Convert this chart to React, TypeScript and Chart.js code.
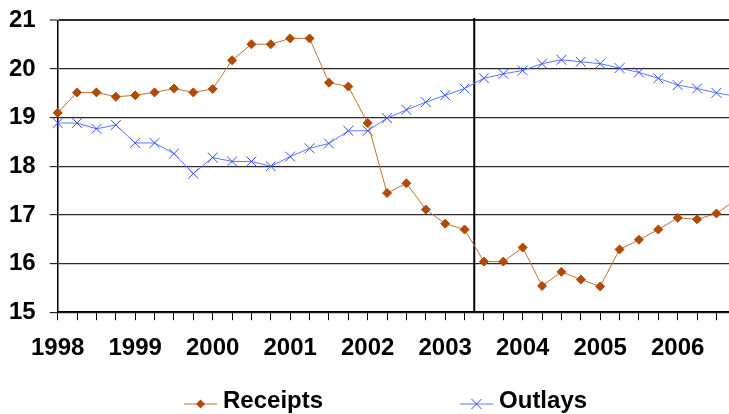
import { useEffect, useRef } from 'react';
import { Chart, registerables } from 'chart.js';

Chart.register(...registerables);

// Quarterly shares of GDP (%), 1998 Q1 onward
const yearLabels = ['1998', '1999', '2000', '2001', '2002', '2003', '2004', '2005', '2006'];
const quartersPerYear = 4;

const receipts = [
  19.10, 19.52, 19.52, 19.43, 19.46, 19.52, 19.60, 19.52,
  19.59, 20.18, 20.51, 20.51, 20.63, 20.63, 19.72, 19.64,
  18.89, 17.45, 17.65, 17.11, 16.82, 16.70, 16.04, 16.04,
  16.33, 15.54, 15.83, 15.67, 15.53, 16.29, 16.49, 16.70,
  16.94, 16.91, 17.03, 17.31,
];

const outlays = [
  18.89, 18.89, 18.77, 18.85, 18.48, 18.48, 18.26, 17.85,
  18.18, 18.10, 18.10, 18.00, 18.20, 18.37, 18.47, 18.73,
  18.73, 18.99, 19.16, 19.32, 19.46, 19.60, 19.81, 19.90,
  19.97, 20.11, 20.19, 20.15, 20.11, 20.02, 19.93, 19.81,
  19.67, 19.60, 19.51, 19.44,
];

// Quarter index (from 1998 Q1) where the vertical divider sits
const dividerQuarter = 21.5;
const yMin = 15;
const yMax = 21;
const lastVisibleQuarter = 34.7;

const FONT_FAMILY = '"Liberation Sans", Arial, Helvetica, sans-serif';
const RECEIPTS_MARK = '#b04a06';
const RECEIPTS_LINE = '#c8702e';
const OUTLAYS_MARK = '#3050ff';
const OUTLAYS_LINE = '#5a78ff';

const tickFont = { family: FONT_FAMILY, size: 24, weight: 'bold' as const };
// Let markers spill past the left/top/bottom of the plot, but cut lines at its right edge
const seriesClip = { left: 10, top: 10, right: 0, bottom: 10 };

function LegendGlyph({ kind }: { kind: 'diamond' | 'cross' }) {
  const stroke = kind === 'diamond' ? RECEIPTS_LINE : OUTLAYS_LINE;
  return (
    <svg width={33} height={14} style={{ position: 'relative', top: 3.5, flex: 'none' }}>
      <line x1={0} y1={7} x2={33} y2={7} stroke={stroke} strokeWidth={1.2} />
      {kind === 'diamond' ? (
        <polygon points="16.5,2.5 21,7 16.5,11.5 12,7" fill={RECEIPTS_MARK} />
      ) : (
        <g stroke={OUTLAYS_MARK} strokeWidth={1}>
          <line x1={11.5} y1={2} x2={21.5} y2={12} />
          <line x1={21.5} y1={2} x2={11.5} y2={12} />
        </g>
      )}
    </svg>
  );
}

export default function App() {
  const canvasRef = useRef<HTMLCanvasElement>(null);

  useEffect(() => {
    const toPoints = (vals: number[]) => vals.map((y, x) => ({ x, y }));
    const chart = new Chart(canvasRef.current!, {
      type: 'line',
      data: {
        datasets: [
          {
            label: 'Receipts',
            data: toPoints(receipts),
            borderColor: RECEIPTS_LINE,
            borderWidth: 1,
            pointStyle: 'rectRot',
            pointRadius: 4.5,
            pointBackgroundColor: RECEIPTS_MARK,
            pointBorderColor: RECEIPTS_MARK,
            pointBorderWidth: 1,
            tension: 0,
            clip: seriesClip as any,
          },
          {
            label: 'Outlays',
            data: toPoints(outlays),
            borderColor: OUTLAYS_LINE,
            borderWidth: 1,
            pointStyle: 'crossRot',
            pointRadius: 7,
            pointBorderColor: OUTLAYS_MARK,
            pointBorderWidth: 1,
            tension: 0,
            clip: seriesClip as any,
          },
          {
            label: 'divider',
            data: [
              { x: dividerQuarter, y: yMin },
              { x: dividerQuarter, y: yMax + 0.05 },
            ],
            borderColor: '#000',
            borderWidth: 2,
            pointRadius: 0,
            clip: false as any,
          },
        ],
      },
      options: {
        animation: false,
        responsive: true,
        maintainAspectRatio: false,
        events: [],
        layout: { padding: { left: 8, right: 0, top: 1, bottom: 39 } },
        plugins: {
          legend: { display: false },
          tooltip: { enabled: false },
        },
        scales: {
          x: {
            type: 'linear',
            min: 0,
            max: lastVisibleQuarter,
            border: { color: '#000', width: 1.5 },
            grid: {
              drawOnChartArea: false,
              drawTicks: true,
              tickLength: 8,
              color: '#000',
              lineWidth: 1,
            },
            ticks: {
              stepSize: 1,
              autoSkip: false,
              includeBounds: false,
              maxTicksLimit: 100,
              maxRotation: 0,
              padding: 14,
              color: '#000',
              font: tickFont,
              callback: (v) => {
                const n = Number(v);
                return n % quartersPerYear === 0 ? yearLabels[n / quartersPerYear] ?? '' : '';
              },
            },
          },
          y: {
            min: yMin,
            max: yMax,
            border: { color: '#000', width: 1.5 },
            grid: {
              color: '#2a2a2a',
              lineWidth: (ctx: any) => (ctx.tick && ctx.tick.value === yMax ? 2 : 1.3),
              tickLength: 8,
              tickColor: '#000',
              tickWidth: 1,
            },
            ticks: {
              stepSize: 1,
              padding: 14,
              color: '#000',
              font: tickFont,
            },
          },
        },
      },
    });
    return () => chart.destroy();
  }, []);

  return (
    <div
      style={{
        position: 'fixed',
        left: 0,
        top: 0,
        width: 729,
        height: 414,
        background: '#fff',
        overflow: 'hidden',
      }}
    >
      <div style={{ position: 'absolute', left: -13, top: -8, width: 751, height: 424 }}>
        <canvas ref={canvasRef} />
      </div>
      <div
        style={{
          position: 'absolute',
          left: 184,
          top: 388,
          display: 'flex',
          alignItems: 'center',
          gap: 137,
          fontFamily: FONT_FAMILY,
          fontWeight: 'bold',
          fontSize: 24,
          lineHeight: '24px',
          color: '#000',
          whiteSpace: 'nowrap',
        }}
      >
        <div style={{ display: 'flex', alignItems: 'center', gap: 6 }}>
          <LegendGlyph kind="diamond" />
          <span>Receipts</span>
        </div>
        <div style={{ display: 'flex', alignItems: 'center', gap: 6 }}>
          <LegendGlyph kind="cross" />
          <span>Outlays</span>
        </div>
      </div>
    </div>
  );
}
